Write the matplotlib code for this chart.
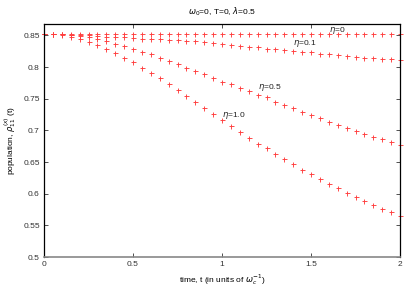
import numpy as np
import matplotlib
matplotlib.use('Agg')
import matplotlib.pyplot as plt

# time grid, step 0.05 (41 points)
t = np.linspace(0, 2, 41)

eta_0 = [0.852] * 41

eta_01 = [0.852, 0.852, 0.852, 0.851, 0.851, 0.850, 0.849, 0.848, 0.8475, 0.847,
          0.8457, 0.845, 0.844, 0.8436, 0.843, 0.842, 0.8415, 0.8404, 0.8394, 0.838,
          0.8367, 0.835, 0.834, 0.8324, 0.8315, 0.829, 0.8288, 0.8277, 0.826, 0.8245,
          0.823, 0.8214, 0.8204, 0.819, 0.8172, 0.816, 0.8146, 0.814, 0.813, 0.812,
          0.811]

eta_05 = [0.852, 0.852, 0.852, 0.851, 0.849, 0.847, 0.844, 0.8415, 0.837, 0.833,
          0.829, 0.8245, 0.820, 0.815, 0.810, 0.805, 0.799, 0.794, 0.789, 0.7835,
          0.777, 0.773, 0.7675, 0.762, 0.756, 0.752, 0.7454, 0.740, 0.735, 0.729,
          0.724, 0.719, 0.7137, 0.709, 0.704, 0.699, 0.6943, 0.690, 0.686, 0.681,
          0.677]

eta_10 = [0.852, 0.852, 0.851, 0.848, 0.844, 0.840, 0.8355, 0.829, 0.8225, 0.815,
          0.808, 0.799, 0.790, 0.782, 0.773, 0.764, 0.754, 0.7445, 0.735, 0.7255,
          0.7165, 0.7075, 0.698, 0.6885, 0.679, 0.6717, 0.6627, 0.6543, 0.6464, 0.638,
          0.6305, 0.6226, 0.6157, 0.6084, 0.6015, 0.5946, 0.5883, 0.5825, 0.5756, 0.5704,
          0.5646]

series = [eta_0, eta_01, eta_05, eta_10]
labels = [r'$\eta$=0', r'$\eta$=0.1', r'$\eta$=0.5', r'$\eta$=1.0']
label_pos = [(1.6, 0.857), (1.40, 0.8375), (1.2, 0.767), (1.0, 0.7228)]

plt.rcParams['font.family'] = ['Liberation Sans', 'DejaVu Sans']
plt.rcParams['mathtext.fontset'] = 'dejavusans'

fig = plt.figure(figsize=(4.15, 2.91), dpi=100)
ax = fig.add_axes([44 / 415, 1 - 257 / 291, 356 / 415, 233 / 291])

for y in series:
    ax.plot(t, y, linestyle='none', marker='+', color='#ff3c3c',
            markersize=3.6, markeredgewidth=0.65, clip_on=False)

for lab, (x, y) in zip(labels, label_pos):
    ax.text(x, y, lab, fontsize=6, va='center', ha='left', color='#222222')

ax.set_xlim(0, 2)
ax.set_ylim(0.5, 0.868)
ax.set_xticks([0, 0.5, 1, 1.5, 2])
ax.set_xticklabels(['0', '0.5', '1', '1.5', '2'])
ax.set_yticks([0.5, 0.55, 0.6, 0.65, 0.7, 0.75, 0.8, 0.85])
ax.set_yticklabels(['0.5', '0.55', '0.6', '0.65', '0.7', '0.75', '0.8', '0.85'])
ax.tick_params(direction='in', top=True, right=True, length=3, width=0.6,
               labelsize=6, pad=3, colors='#333333')

for side in ['left', 'right', 'top']:
    ax.spines[side].set_linewidth(0.9)
    ax.spines[side].set_color('black')
ax.spines['bottom'].set_linewidth(1.2)
ax.spines['bottom'].set_color('#888888')

ax.set_title(r'$\omega_0$=0, T=0, $\lambda$=0.5', fontsize=6, pad=7)
ax.set_xlabel(r'time, t (in units of $\omega_c^{-1}$)', fontsize=6, labelpad=3)
ax.set_ylabel(r'population, $\rho_{11}^{(x)}$ (t)', fontsize=6, labelpad=4)

fig.savefig('out.png', dpi=100)
